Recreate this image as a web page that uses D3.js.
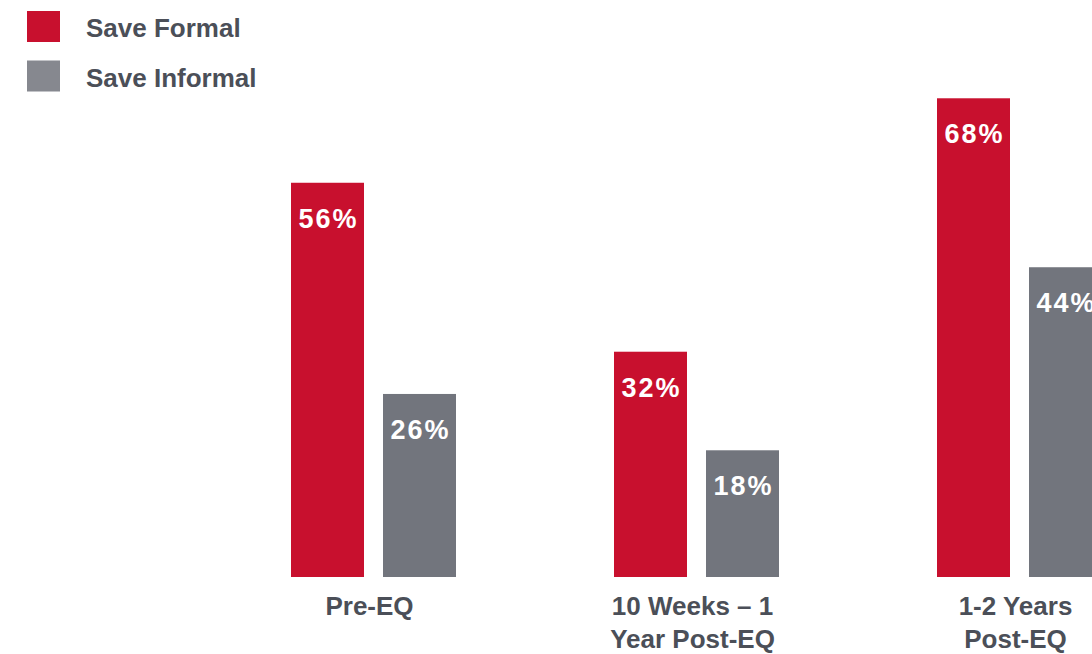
<!DOCTYPE html>
<html>
<head>
<meta charset="utf-8">
<script src="https://cdn.jsdelivr.net/npm/d3@7"></script>
<style>
  html, body { margin: 0; padding: 0; background: #ffffff; }
  svg { display: block; font-family: "Liberation Sans", Arial, sans-serif; }
</style>
</head>
<body>
<svg id="chart" width="1092" height="654"></svg>
<script>
// Savings behaviour before and after the earthquake
const categories = ["Pre-EQ", "10 Weeks – 1 Year Post-EQ", "1-2 Years Post-EQ"];
const categoryLines = [["Pre-EQ"], ["10 Weeks – 1", "Year Post-EQ"], ["1-2 Years", "Post-EQ"]];
const seriesNames = ["Save Formal", "Save Informal"];
const saveFormal = [56, 32, 68];
const saveInformal = [26, 18, 44];

const barColors = { "Save Formal": "#c8102e", "Save Informal": "#72757d" };
const legendColors = { "Save Formal": "#c8102e", "Save Informal": "#86888f" };
const textColor = "#4b4f58";

const rows = categories.map((c, i) => ({
  category: c,
  lines: categoryLines[i],
  values: [
    { series: "Save Formal", value: saveFormal[i] },
    { series: "Save Informal", value: saveInformal[i] }
  ]
}));

const svg = d3.select("#chart");
const baseline = 577;

const x0 = d3.scaleBand()
  .domain(categories)
  .range([212, 212 + 323 * categories.length])
  .padding(0);

const groupWidth = 165;
const x1 = d3.scaleBand()
  .domain(seriesNames)
  .range([x0.bandwidth() / 2 - groupWidth / 2, x0.bandwidth() / 2 + groupWidth / 2])
  .paddingInner(0.2065)
  .paddingOuter(0);

const y = d3.scaleLinear().domain([0, 80]).range([baseline, baseline - 563.2]);

// Bars
const groups = svg.append("g").selectAll("g")
  .data(rows)
  .join("g")
  .attr("transform", d => `translate(${x0(d.category)},0)`);

groups.selectAll("rect")
  .data(d => d.values)
  .join("rect")
  .attr("x", d => x1(d.series))
  .attr("y", d => y(d.value))
  .attr("width", x1.bandwidth())
  .attr("height", d => y(0) - y(d.value))
  .attr("fill", d => barColors[d.series]);

// Value labels inside the bar tops
groups.selectAll("text.value")
  .data(d => d.values)
  .join("text")
  .attr("class", "value")
  .attr("x", d => x1(d.series) + x1.bandwidth() / 2 + 1)
  .attr("y", d => y(d.value) + 45)
  .attr("text-anchor", "middle")
  .attr("fill", "#ffffff")
  .attr("font-weight", "bold")
  .attr("font-size", 27)
  .attr("letter-spacing", 2)
  .text(d => d.value + "%");

// Category labels
const labels = svg.append("g").selectAll("text")
  .data(rows)
  .join("text")
  .attr("x", d => x0(d.category) + x0.bandwidth() / 2 - 4)
  .attr("y", 615)
  .attr("text-anchor", "middle")
  .attr("fill", textColor)
  .attr("font-weight", "bold")
  .attr("font-size", 26);

labels.selectAll("tspan")
  .data(d => d.lines)
  .join("tspan")
  .attr("x", function() { return d3.select(this.parentNode).attr("x"); })
  .attr("dy", (d, i) => i === 0 ? 0 : 33)
  .text(d => d);

// Legend
const legend = svg.append("g").selectAll("g")
  .data(seriesNames)
  .join("g")
  .attr("transform", (d, i) => `translate(27,${11 + i * 49.5})`);

legend.append("rect")
  .attr("width", 33)
  .attr("height", 31)
  .attr("fill", d => legendColors[d]);

legend.append("text")
  .attr("x", 59)
  .attr("y", 26)
  .attr("fill", textColor)
  .attr("font-weight", "bold")
  .attr("font-size", 26)
  .text(d => d);
</script>
</body>
</html>
